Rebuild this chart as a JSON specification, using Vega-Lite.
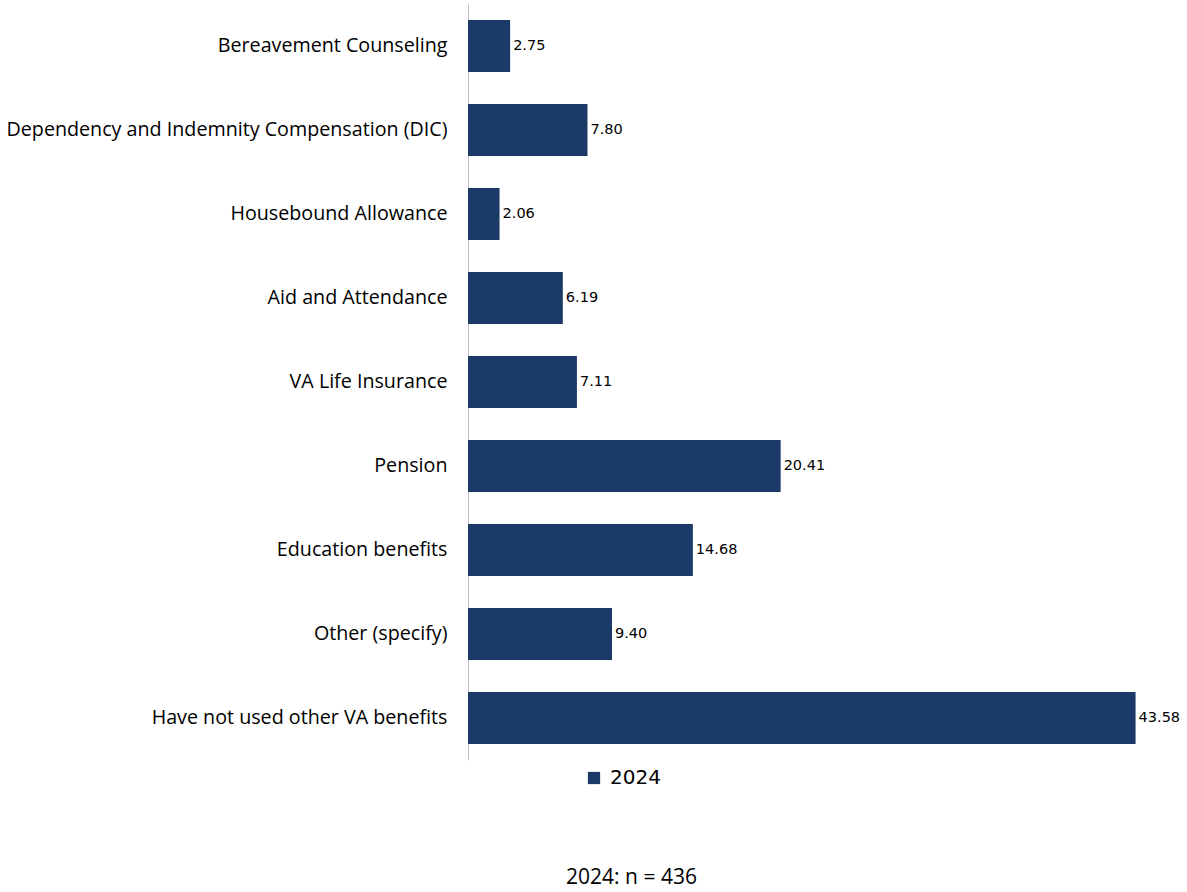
{
  "$schema": "https://vega.github.io/schema/vega-lite/v6.json",
  "width": 674,
  "height": 756,
  "autosize": "none",
  "padding": {"left": 468, "top": 4, "right": 45, "bottom": 132},
  "background": "white",
  "config": {"view": {"stroke": null}},
  "data": {
    "values": [
      {"benefit": "Bereavement Counseling", "value": 2.75, "year": "2024"},
      {"benefit": "Dependency and Indemnity Compensation (DIC)", "value": 7.80, "year": "2024"},
      {"benefit": "Housebound Allowance", "value": 2.06, "year": "2024"},
      {"benefit": "Aid and Attendance", "value": 6.19, "year": "2024"},
      {"benefit": "VA Life Insurance", "value": 7.11, "year": "2024"},
      {"benefit": "Pension", "value": 20.41, "year": "2024"},
      {"benefit": "Education benefits", "value": 14.68, "year": "2024"},
      {"benefit": "Other (specify)", "value": 9.40, "year": "2024"},
      {"benefit": "Have not used other VA benefits", "value": 43.58, "year": "2024"}
    ]
  },
  "encoding": {
    "y": {
      "field": "benefit",
      "type": "nominal",
      "sort": null,
      "scale": {"paddingInner": 0.38, "paddingOuter": 0.19},
      "axis": {
        "title": null,
        "ticks": false,
        "labelPadding": 21,
        "labelLimit": 600,
        "labelFont": "Open Sans",
        "labelFontSize": 19.7,
        "labelColor": "#000000",
        "domainColor": "#BFBFBF",
        "domainWidth": 1
      }
    },
    "x": {
      "field": "value",
      "type": "quantitative",
      "scale": {"domain": [0, 44], "nice": false},
      "axis": {
        "labels": false,
        "ticks": false,
        "domain": false,
        "grid": false,
        "title": "2024: n = 436",
        "titleFont": "Open Sans",
        "titleFontSize": 21,
        "titleFontWeight": "normal",
        "titleColor": "#000000",
        "titlePadding": 106,
        "titleX": 163,
        "titleAlign": "center"
      }
    }
  },
  "layer": [
    {
      "mark": {"type": "bar", "color": "#1B3A68"},
      "encoding": {
        "color": {
          "field": "year",
          "type": "nominal",
          "scale": {"range": ["#1B3A68"]},
          "legend": {
            "title": null,
            "orient": "none",
            "legendX": 116,
            "legendY": 764,
            "symbolType": "square",
            "symbolSize": 150,
            "symbolStrokeWidth": 0,
            "labelFont": "DejaVu Sans",
            "labelFontSize": 20,
            "labelColor": "#000000",
            "labelOffset": 6
          }
        }
      }
    },
    {
      "mark": {"type": "text", "align": "left", "dx": 3, "font": "DejaVu Sans", "fontSize": 14.5, "color": "#000000"},
      "encoding": {
        "text": {"field": "value", "type": "quantitative", "format": ".2f"}
      }
    }
  ]
}
